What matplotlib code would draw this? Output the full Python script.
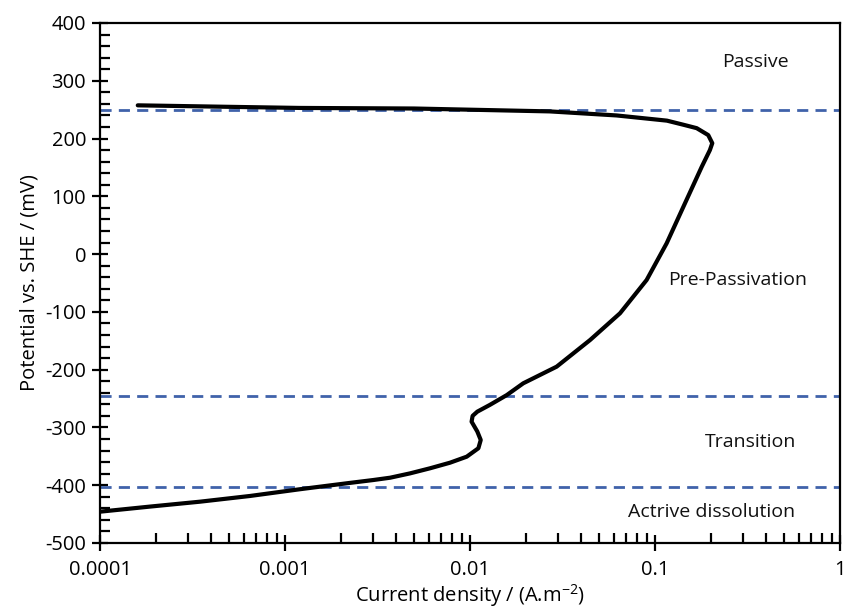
import matplotlib
matplotlib.use("Agg")
import matplotlib.pyplot as plt
from matplotlib.ticker import FixedLocator, MultipleLocator, LogLocator, NullFormatter

plt.rcParams['font.family'] = ['Open Sans', 'DejaVu Sans']
plt.rcParams['axes.unicode_minus'] = False

# Polarization curve (path order, from the bottom up)
current = [1.0e-4, 1.86e-4, 3.47e-4, 6.47e-4, 1.2e-3, 1.42e-3, 2.24e-3, 3.0e-3, 3.7e-3,
           4.74e-3, 6.08e-3, 7.8e-3, 9.6e-3, 1.11e-2, 1.143e-2, 1.095e-2, 1.02e-2,
           1.033e-2, 1.095e-2, 1.28e-2, 1.58e-2, 1.94e-2, 2.94e-2, 4.46e-2, 6.47e-2,
           9.01e-2, 1.156e-1, 1.48e-1, 1.79e-1, 1.98e-1, 2.04e-1, 1.94e-1, 1.68e-1,
           1.42e-1, 1.16e-1, 6.2e-2, 2.7e-2, 5.0e-3, 1.2e-3, 4.8e-4, 1.6e-4]
potential = [-445.8, -437, -428.5, -418.6, -407, -404, -396, -391, -387,
             -379.5, -370.7, -361, -350.6, -336, -321.7, -307, -290,
             -280, -272.7, -261, -244, -223.6, -194.8, -148.6, -102.4,
             -44.8, 18.7, 93.7, 151.3, 180, 192, 206, 218,
             224, 231, 240, 247, 252, 253, 255, 257.5]

# Region boundaries (mV) and region labels
boundaries = [249, -245, -403]
region_names = ["Passive", "Pre-Passivation", "Transition", "Actrive dissolution"]
region_x = [0.347, 0.281, 0.33, 0.201]
region_y = [332, -45, -325, -446]

x_ticks = [0.0001, 0.001, 0.01, 0.1, 1]
x_tick_labels = ["0.0001", "0.001", "0.01", "0.1", "1"]
y_ticks = [-500, -400, -300, -200, -100, 0, 100, 200, 300, 400]
y_tick_labels = [str(v) for v in y_ticks]

fig = plt.figure(figsize=(8.43, 6.15), dpi=100)
ax = fig.add_axes([100/843, 1 - 543/615, 740/843, 520/615])

for b in boundaries:
    ax.axhline(b, color='#4062AA', lw=2.0, ls=(0, (4, 2.6)), zorder=2)

ax.plot(current, potential, color='black', lw=3.0, solid_capstyle='round',
        solid_joinstyle='round', zorder=3)

for name, xx, yy in zip(region_names, region_x, region_y):
    ax.text(xx, yy, name, ha='center', va='center', fontsize=14, color='#111111')

ax.set_xscale('log')
ax.set_xlim(1e-4, 1)
ax.set_ylim(-500, 400)

ax.xaxis.set_major_locator(FixedLocator(x_ticks))
ax.set_xticklabels(x_tick_labels)
ax.xaxis.set_minor_locator(LogLocator(base=10, subs=range(2, 10)))
ax.xaxis.set_minor_formatter(NullFormatter())
ax.yaxis.set_major_locator(FixedLocator(y_ticks))
ax.set_yticklabels(y_tick_labels)
ax.yaxis.set_minor_locator(MultipleLocator(20))

for s in ax.spines.values():
    s.set_linewidth(1.6)
    s.set_color('black')

ax.tick_params(which='major', direction='inout', length=12, width=1.6,
               labelsize=14.5, pad=4)
ax.tick_params(which='minor', direction='in', length=7, width=1.6)
ax.tick_params(axis='x', which='major', pad=6)

ax.set_xlabel("Current density / (A.m$^{\\mathregular{-2}}$)", fontsize=14.5, labelpad=2)
ax.set_ylabel("Potential vs. SHE / (mV)", fontsize=14.5, labelpad=4)

fig.savefig("out.png", dpi=100)
